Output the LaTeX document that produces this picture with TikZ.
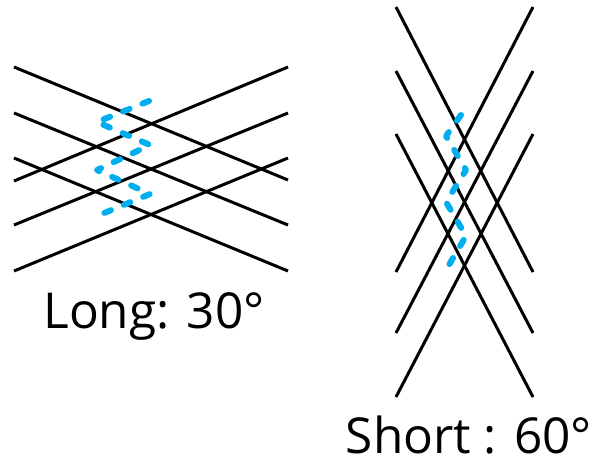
\documentclass[tikz,border=0pt]{standalone}
\usepackage{fontspec}
\setmainfont{Open Sans}
\usepackage{tikz}
\usetikzlibrary{calc}
\definecolor{dashblue}{RGB}{0,174,239}
\tikzset{strand/.style={draw=black,line width=3pt}}
\tikzset{seam/.style={draw=dashblue,line width=6pt,line cap=round,line join=round,dash pattern=on 7pt off 14pt}}
\tikzset{capt/.style={anchor=base,inner sep=0pt,font=\fontsize{49.5}{54}\selectfont}}
\begin{document}
\begin{tikzpicture}[x=1pt,y=-1pt]
\useasboundingbox (0,0) rectangle (597,464);
% long one, lines at the sides
\coordinate (l1) at (14,67);
\coordinate (l2) at (14,113);
\coordinate (l3) at (14,158);
\coordinate (l4) at (14,181);
\coordinate (l5) at (14,225);
\coordinate (l6) at (14,271);
\coordinate (r1) at (288,67);
\coordinate (r2) at (288,113);
\coordinate (r3) at (288,158);
\coordinate (r4) at (288,180);
\coordinate (r5) at (288,225);
\coordinate (r6) at (288,271);
\draw [strand] (l1) -- (r4);
\draw [strand] (l2) -- (r5);
\draw [strand] (l3) -- (r6);
\draw [strand] (l4) -- (r1);
\draw [strand] (l5) -- (r2);
\draw [strand] (l6) -- (r3);
\coordinate (z1) at (149,101);
\coordinate (z2) at (97,122);
\coordinate (z3) at (150,145);
\coordinate (z4) at (97,170);
\coordinate (z5) at (150,194);
\coordinate (z6) at (97,216);
\draw [seam] (z1) -- (z2) -- (z3) -- (z4) -- (z5) -- (z6);
\node [capt] at (154,328) (longlbl) {Long: 30°};

% short one
\coordinate (a1) at (396,7);
\coordinate (a2) at (396,71);
\coordinate (a3) at (396,134);
\coordinate (a4) at (396,272);
\coordinate (a5) at (396,333);
\coordinate (a6) at (396,397);
\coordinate (b1) at (533,7);
\coordinate (b2) at (533,71);
\coordinate (b3) at (533,134);
\coordinate (b4) at (533,272);
\coordinate (b5) at (533,333);
\coordinate (b6) at (533,397);
\draw [strand] (a1) -- (b4);
\draw [strand] (a2) -- (b5);
\draw [strand] (a3) -- (b6);
\draw [strand] (a4) -- (b1);
\draw [strand] (a5) -- (b2);
\draw [strand] (a6) -- (b3);
\coordinate (w1) at (461,115);
\coordinate (w2) at (446,136);
\coordinate (w3) at (466,170);
\coordinate (w4) at (446,202);
\coordinate (w5) at (466,236);
\coordinate (w6) at (446,270);
\draw [seam] (w1) -- (w2) -- (w3) -- (w4) -- (w5) -- (w6);
\node [capt] at (469,453) (shortlbl) {Short : 60°};
\end{tikzpicture}
\end{document}
